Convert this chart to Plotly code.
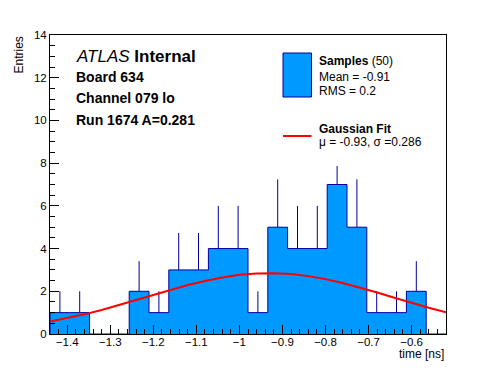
import plotly.graph_objects as go

# ---- data ----
bin_low = -1.44
bin_width = 0.046
counts = [1, 1, 0, 0, 2, 1, 3, 3, 4, 4, 1, 5, 4, 4, 7, 5, 1, 1, 2, 0]
err_up = [1, 1, 0, 0, 1.41, 1, 1.73, 1.73, 2, 2, 1, 2.24, 2, 2, 2.65, 2.24, 1, 1, 1.41, 0]

fit_x = [-1.44, -1.40, -1.36, -1.32, -1.28, -1.24, -1.20, -1.16, -1.12, -1.08, -1.04, -1.00,
         -0.96, -0.92, -0.88, -0.84, -0.80, -0.76, -0.72, -0.68, -0.64, -0.60, -0.56, -0.52]
fit_y = [0.58, 0.74, 0.92, 1.12, 1.35, 1.58, 1.83, 2.06, 2.29, 2.48, 2.65, 2.77,
         2.83, 2.85, 2.81, 2.71, 2.57, 2.39, 2.18, 1.94, 1.70, 1.46, 1.23, 1.02]

x_range = [-1.44, -0.52]
y_range = [0, 14]

FONT = "Liberation Sans, Arial, Helvetica, sans-serif"
FILL = "#0099ff"
NAVY = "#000099"

# ---- build histogram step path from the bins ----
edges = [bin_low + i * bin_width for i in range(len(counts) + 1)]
sx, sy = [edges[0]], [0]
for i, c in enumerate(counts):
    sx += [edges[i], edges[i + 1]]
    sy += [c, c]
sx.append(edges[-1])
sy.append(0)

ex, ey = [], []
for i, (c, e) in enumerate(zip(counts, err_up)):
    if e > 0:
        xc = (edges[i] + edges[i + 1]) / 2
        ex += [xc, xc, None]
        ey += [c, c + e, None]

fig = go.Figure()
fig.add_trace(go.Scatter(x=sx, y=sy, mode="lines", fill="toself", fillcolor=FILL,
                         line=dict(color=NAVY, width=1), hoverinfo="skip", showlegend=False))
fig.add_trace(go.Scatter(x=ex, y=ey, mode="lines", line=dict(color=NAVY, width=1),
                         hoverinfo="skip", showlegend=False))
fig.add_trace(go.Scatter(x=fit_x, y=fit_y, mode="lines", line=dict(color="#ff0000", width=2),
                         hoverinfo="skip", showlegend=False))

# page body has an 8px margin; plot area on screen: x 50..446, y 35..334
OFF = 8
W, H = 488, 364
PL, PR, PT, PB = 50, 446, 35, 334
L, R, T, B = PL - OFF, W - (PR - OFF), PT - OFF, H - (PB - OFF)
pw, ph = PR - PL, PB - PT


def px(x):
    return (x - PL) / pw


def py(y):
    return (PB - y) / ph


shapes = [
    # white legend background (occludes part of an error bar, as in the reference)
    dict(type="rect", xref="paper", yref="paper", x0=px(276), x1=px(444), y0=py(166), y1=py(38),
         fillcolor="white", line=dict(width=0), layer="above"),
    dict(type="rect", xref="paper", yref="paper", x0=px(283), x1=px(311.5), y0=py(97), y1=py(53),
         fillcolor=FILL, line=dict(color=NAVY, width=1), layer="above"),
    dict(type="line", xref="paper", yref="paper", x0=px(283), x1=px(311.5), y0=py(136), y1=py(136),
         line=dict(color="#ff0000", width=2), layer="above"),
]


def ann(text, x, y, size, **kw):
    d = dict(text=text, x=px(x), y=py(y), xref="paper", yref="paper", showarrow=False,
             xanchor="left", yanchor="middle", font=dict(family=FONT, size=size, color="black"))
    d.update(kw)
    return d


annotations = [
    ann("<i>ATLAS</i> <b>Internal</b>", 74, 57, 17),
    ann("<b>Board 634</b>", 74, 77, 14),
    ann("<b>Channel 079 lo</b>", 74, 98, 14),
    ann("<b>Run 1674 A=0.281</b>", 74, 120, 14),
    ann("<b>Samples</b> (50)", 317, 61, 12),
    ann("Mean = -0.91", 317, 77, 12),
    ann("RMS = 0.2", 317, 91, 12),
    ann("<b>Gaussian Fit</b>", 317, 129, 12),
    ann("μ = -0.93, σ =0.286", 317, 142, 12),
    ann("time [ns]", 446, 354, 12, xanchor="right"),
    ann("Entries", 18, 35, 12, xanchor="center", yanchor="top", textangle=-90),
]

axis_common = dict(showline=True, linecolor="black", linewidth=1, mirror=True,
                   ticks="inside", ticklen=9, tickwidth=1, tickcolor="black",
                   showgrid=False, zeroline=False,
                   tickfont=dict(family=FONT, size=11.5, color="black"))

fig.update_layout(
    width=W, height=H,
    margin=dict(l=L, r=R, t=T, b=B),
    paper_bgcolor="white", plot_bgcolor="white",
    xaxis=dict(range=x_range, tickmode="linear", tick0=-1.4, dtick=0.1, ticklabelstandoff=-3,
               minor=dict(dtick=0.02, tick0=-1.4, ticks="inside", ticklen=5, tickcolor="black"),
               **axis_common),
    yaxis=dict(range=y_range, tickmode="linear", tick0=0, dtick=2,
               minor=dict(dtick=0.5, ticks="inside", ticklen=5, tickcolor="black"),
               **axis_common),
    shapes=shapes,
    annotations=annotations,
    showlegend=False,
)

fig.write_html("out.html")
